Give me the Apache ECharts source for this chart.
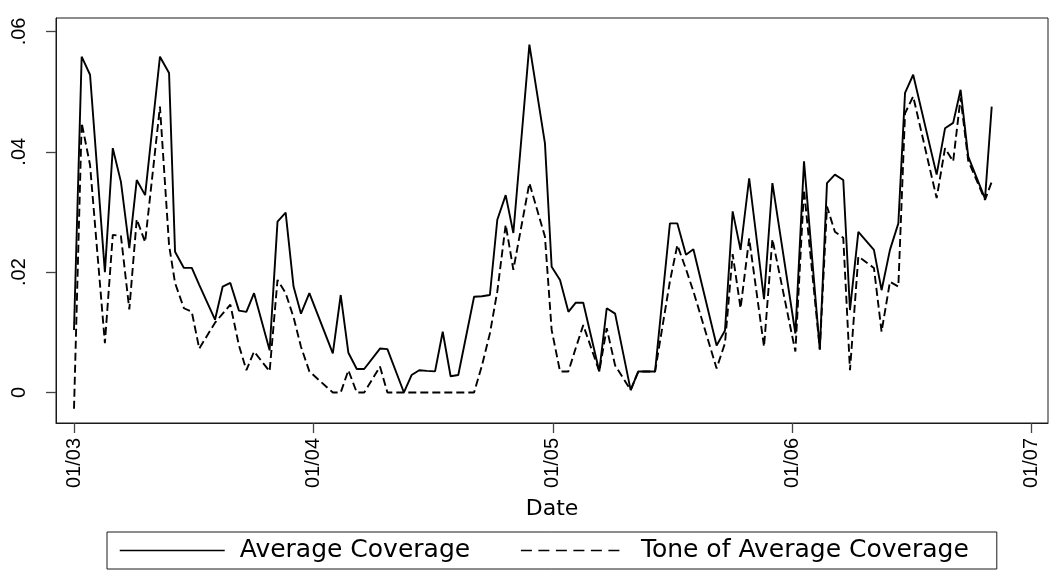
<!DOCTYPE html>
<html>
<head>
<meta charset="utf-8">
<script src="https://cdn.jsdelivr.net/npm/echarts@6/dist/echarts.min.js"></script>
<style>
html,body{margin:0;padding:0;background:#fff;}
#chart{width:1049px;height:570px;}
</style>
</head>
<body>
<div id="chart"></div>
<script>
// Dates as decimal years (2003.0 = 1 Jan 2003)
const dates = [
  2003.000, 2003.032, 2003.067, 2003.129, 2003.162, 2003.196, 2003.231, 2003.262, 2003.297, 2003.359,
  2003.397, 2003.422, 2003.459, 2003.492, 2003.523, 2003.589, 2003.621, 2003.653, 2003.689, 2003.720,
  2003.752, 2003.817, 2003.850, 2003.884, 2003.917, 2003.948, 2003.983, 2004.081, 2004.114, 2004.146,
  2004.181, 2004.212, 2004.278, 2004.309, 2004.378, 2004.410, 2004.442, 2004.474, 2004.508, 2004.540,
  2004.573, 2004.605, 2004.671, 2004.704, 2004.737, 2004.768, 2004.803, 2004.835, 2004.902, 2004.967,
  2004.995, 2005.030, 2005.065, 2005.095, 2005.127, 2005.194, 2005.225, 2005.260, 2005.325, 2005.357,
  2005.392, 2005.427, 2005.489, 2005.520, 2005.556, 2005.587, 2005.684, 2005.719, 2005.751, 2005.784,
  2005.820, 2005.882, 2005.917, 2006.013, 2006.049, 2006.115, 2006.145, 2006.178, 2006.213, 2006.241,
  2006.276, 2006.341, 2006.373, 2006.408, 2006.443, 2006.471, 2006.505, 2006.603, 2006.638, 2006.672,
  2006.703, 2006.735, 2006.805, 2006.833
];

const averageCoverage = [
  0.0104, 0.0558, 0.0528, 0.0200, 0.0406, 0.0350, 0.0240, 0.0353, 0.0328, 0.0558,
  0.0531, 0.0234, 0.0207, 0.0207, 0.0179, 0.0121, 0.0176, 0.0182, 0.0136, 0.0134,
  0.0165, 0.0070, 0.0284, 0.0299, 0.0176, 0.0131, 0.0165, 0.0065, 0.0162, 0.0066,
  0.0039, 0.0039, 0.0073, 0.0072, 0.0000, 0.0029, 0.0037, 0.0036, 0.0035, 0.0101,
  0.0027, 0.0029, 0.0159, 0.0160, 0.0162, 0.0287, 0.0328, 0.0265, 0.0578, 0.0414,
  0.0209, 0.0187, 0.0134, 0.0149, 0.0149, 0.0035, 0.0140, 0.0131, 0.0004, 0.0035,
  0.0035, 0.0035, 0.0281, 0.0281, 0.0229, 0.0238, 0.0078, 0.0103, 0.0301, 0.0237,
  0.0356, 0.0155, 0.0348, 0.0098, 0.0384, 0.0071, 0.0348, 0.0362, 0.0353, 0.0137,
  0.0267, 0.0237, 0.0170, 0.0237, 0.0281, 0.0498, 0.0528, 0.0362, 0.0439, 0.0448,
  0.0503, 0.0392, 0.0322, 0.0475
];

const toneOfAverageCoverage = [
  -0.0027, 0.0448, 0.0378, 0.0082, 0.0262, 0.0260, 0.0138, 0.0288, 0.0250, 0.0475,
  0.0245, 0.0182, 0.0140, 0.0134, 0.0073, 0.0116, 0.0131, 0.0146, 0.0078, 0.0037,
  0.0068, 0.0035, 0.0187, 0.0165, 0.0125, 0.0076, 0.0035, 0.0000, 0.0000, 0.0037,
  0.0000, 0.0000, 0.0043, 0.0000, 0.0000, 0.0000, 0.0000, 0.0000, 0.0000, 0.0000,
  0.0000, 0.0000, 0.0000, 0.0045, 0.0098, 0.0168, 0.0279, 0.0204, 0.0348, 0.0259,
  0.0104, 0.0035, 0.0035, 0.0073, 0.0112, 0.0035, 0.0107, 0.0045, 0.0004, 0.0035,
  0.0035, 0.0035, 0.0185, 0.0245, 0.0205, 0.0168, 0.0040, 0.0082, 0.0230, 0.0140,
  0.0256, 0.0076, 0.0255, 0.0068, 0.0337, 0.0072, 0.0309, 0.0267, 0.0257, 0.0037,
  0.0226, 0.0207, 0.0101, 0.0184, 0.0176, 0.0464, 0.0492, 0.0323, 0.0406, 0.0384,
  0.0490, 0.0385, 0.0320, 0.0350
];

const xTicks = [2003, 2004, 2005, 2006, 2007];
const xTickLabels = ['01/03', '01/04', '01/05', '01/06', '01/07'];
const yTicks = [0, 0.02, 0.04, 0.06];
const yTickLabels = ['0', '.02', '.04', '.06'];

const seriesNames = ['Average Coverage', 'Tone of Average Coverage'];

function lookup(ticks, labels, v) {
  for (let i = 0; i < ticks.length; i++) {
    if (Math.abs(ticks[i] - v) < 1e-9) return labels[i];
  }
  return '';
}

const chart = echarts.init(document.getElementById('chart'), null, { renderer: 'canvas' });
const axisColor = '#1a1a1a';

chart.setOption({
  animation: false,
  backgroundColor: '#ffffff',
  grid: {
    left: 56, right: 1, top: 18, bottom: 147,
    show: true, borderColor: axisColor, borderWidth: 1, backgroundColor: 'transparent'
  },
  xAxis: {
    type: 'value',
    min: 2002.9248,
    max: 2007.0681,
    name: 'Date',
    nameLocation: 'middle',
    nameGap: 75,
    nameTextStyle: { fontFamily: 'DejaVu Sans', fontSize: 22, color: '#000' },
    axisLine: { show: true, onZero: false, lineStyle: { color: axisColor, width: 1 } },
    axisTick: { show: true, customValues: xTicks, length: 10, lineStyle: { color: '#444', width: 1.3 } },
    axisLabel: {
      customValues: xTicks,
      rotate: 90,
      margin: 15,
      fontFamily: 'Liberation Sans',
      fontSize: 20,
      color: '#000',
      formatter: v => lookup(xTicks, xTickLabels, v)
    },
    splitLine: { show: false }
  },
  yAxis: {
    type: 'value',
    min: -0.00507,
    max: 0.06223,
    axisLine: { show: true, onZero: false, lineStyle: { color: axisColor, width: 1 } },
    axisTick: { show: true, customValues: yTicks, length: 10, lineStyle: { color: '#444', width: 1.3 } },
    axisLabel: {
      customValues: yTicks,
      rotate: 90,
      margin: 27,
      fontFamily: 'Liberation Sans',
      fontSize: 20,
      color: '#000',
      formatter: v => lookup(yTicks, yTickLabels, v)
    },
    splitLine: { show: false }
  },
  legend: {
    left: 107,
    bottom: 1,
    data: [
      { name: seriesNames[0] },
      { name: seriesNames[1], lineStyle: { type: [11, 6.5] } }
    ],
    itemWidth: 105,
    itemHeight: 14,
    itemGap: 50,
    padding: [6, 28, 6, 12],
    borderColor: axisColor,
    borderWidth: 1,
    itemStyle: { opacity: 0 },
    lineStyle: { width: 1.5 },
    textStyle: { fontFamily: 'DejaVu Sans', fontSize: 25, color: '#000', padding: [0, 0, 0, 10] }
  },
  series: [
    {
      name: seriesNames[0],
      type: 'line',
      data: dates.map((d, i) => [d, averageCoverage[i]]),
      symbol: 'none',
      showSymbol: false,
      lineStyle: { color: '#000', width: 1.9, type: 'solid' },
      itemStyle: { color: '#000' }
    },
    {
      name: seriesNames[1],
      type: 'line',
      data: dates.map((d, i) => [d, toneOfAverageCoverage[i]]),
      symbol: 'none',
      showSymbol: false,
      lineStyle: { color: '#000', width: 1.9, type: [8, 4] },
      itemStyle: { color: '#000' }
    }
  ]
});
</script>
</body>
</html>
